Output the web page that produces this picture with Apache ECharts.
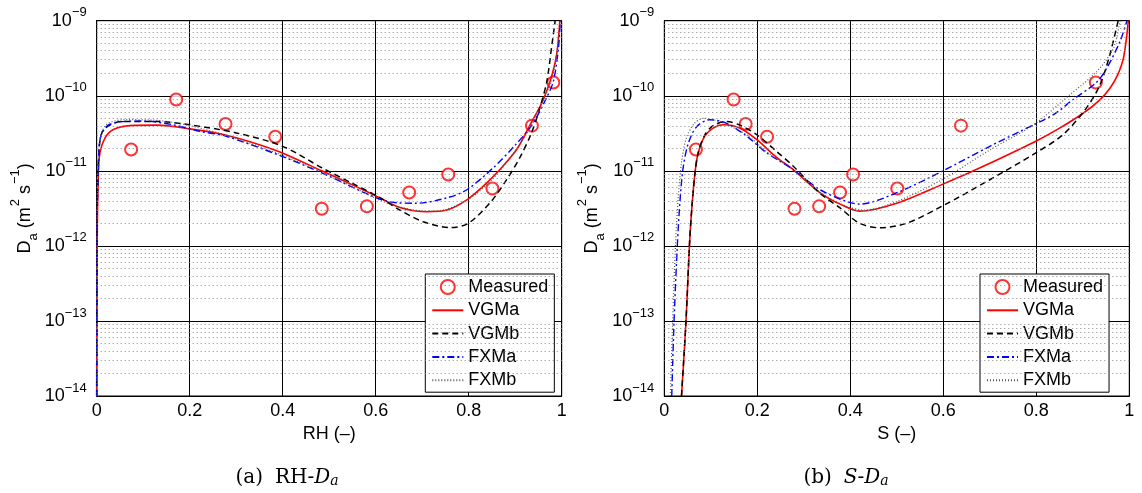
<!DOCTYPE html>
<html><head><meta charset="utf-8">
<script src="https://cdn.jsdelivr.net/npm/echarts@6/dist/echarts.min.js"></script>
<style>html,body{margin:0;padding:0;background:#fff}#c{width:1142px;height:493px}</style>
</head><body><div id="c"></div>
<script>
// ---------- data ----------
const xTicks = [0, 0.2, 0.4, 0.6, 0.8, 1];
const yDecades = [-14, -13, -12, -11, -10, -9];   // tick labels 10^n
const seriesNames = ['Measured', 'VGMa', 'VGMb', 'FXMa', 'FXMb'];

const measuredDa = [1.92e-11, 8.93e-11, 4.2e-11, 2.85e-11, 3.13e-12, 3.36e-12, 5.15e-12, 8.93e-12, 5.82e-12, 4.0e-11, 1.5e-10];
const measuredRH = [0.074, 0.171, 0.277, 0.384, 0.484, 0.581, 0.672, 0.756, 0.851, 0.936, 0.982];
const measuredS  = [0.068, 0.149, 0.175, 0.221, 0.280, 0.333, 0.378, 0.406, 0.501, 0.638, 0.928];

// panel (a): RH - Da  ([RH, Da])
const vgmaRH = [[0,1e-14],[0.001,1e-12],[0.0034,8.7e-12],[0.007,1.75e-11],[0.018,2.75e-11],[0.036,3.55e-11],[0.072,4.0e-11],[0.13,4.06e-11],[0.2,3.62e-11],[0.277,3.0e-11],[0.384,1.88e-11],[0.484,1.0e-11],[0.55,6.5e-12],[0.609,4.36e-12],[0.652,3.25e-12],[0.71,2.85e-12],[0.753,3.0e-12],[0.796,4.1e-12],[0.839,6.9e-12],[0.874,1.16e-11],[0.905,2.0e-11],[0.932,4.1e-11],[0.957,8.0e-11],[0.975,1.55e-10],[0.989,3.5e-10],[0.996,1e-9]];
const vgmbRH = [[0,1e-14],[0.001,3e-12],[0.004,1.5e-11],[0.011,3.2e-11],[0.029,4.1e-11],[0.057,4.55e-11],[0.13,4.55e-11],[0.2,4.1e-11],[0.3,3.2e-11],[0.4,2.12e-11],[0.484,1.1e-11],[0.55,6.8e-12],[0.609,4.4e-12],[0.652,3.0e-12],[0.702,2.1e-12],[0.76,1.75e-12],[0.799,2.0e-12],[0.846,3.75e-12],[0.882,7.7e-12],[0.91,1.5e-11],[0.935,3.2e-11],[0.953,6.9e-11],[0.968,1.55e-10],[0.978,4.3e-10],[0.986,1e-9]];
const fxmaRH = [[0,1e-14],[0.001,2e-12],[0.004,1.3e-11],[0.007,2.6e-11],[0.021,3.9e-11],[0.05,4.5e-11],[0.1,4.6e-11],[0.165,4.1e-11],[0.222,3.35e-11],[0.277,2.9e-11],[0.4,1.55e-11],[0.484,9.4e-12],[0.6,4.4e-12],[0.645,3.75e-12],[0.688,3.7e-12],[0.753,4.36e-12],[0.796,5.6e-12],[0.853,1.1e-11],[0.9,2.2e-11],[0.935,4.0e-11],[0.964,8.5e-11],[0.982,1.55e-10],[0.993,4.3e-10],[0.997,1e-9]];
const fxmbRH = [[0,1e-14],[0.001,2.5e-12],[0.004,1.6e-11],[0.01,3.2e-11],[0.025,4.3e-11],[0.06,4.8e-11],[0.12,4.75e-11],[0.2,4.0e-11],[0.3,2.7e-11],[0.4,1.6e-11],[0.5,8.8e-12],[0.6,4.3e-12],[0.65,3.3e-12],[0.71,2.9e-12],[0.75,3.05e-12],[0.8,4.2e-12],[0.85,7.6e-12],[0.9,1.85e-11],[0.935,4.0e-11],[0.96,8.5e-11],[0.98,1.8e-10],[0.99,4e-10],[0.997,1e-9]];

// panel (b): S - Da  ([S, Da])
const vgmaS = [[0.037,1e-14],[0.0467,1e-13],[0.054,1e-12],[0.059,3.06e-12],[0.066,9.4e-12],[0.073,1.74e-11],[0.087,2.9e-11],[0.105,3.7e-11],[0.127,4.1e-11],[0.163,3.7e-11],[0.199,2.6e-11],[0.242,1.5e-11],[0.277,1.04e-11],[0.335,5.1e-12],[0.378,3.6e-12],[0.42,2.9e-12],[0.5,3.7e-12],[0.598,6.6e-12],[0.665,1.0e-11],[0.799,2.48e-11],[0.85,3.7e-11],[0.9,5.8e-11],[0.935,8.6e-11],[0.958,1.25e-10],[0.975,1.9e-10],[0.988,3.3e-10],[0.998,1e-9]];
const vgmbS = [[0.037,1e-14],[0.0467,1e-13],[0.054,1e-12],[0.059,3.06e-12],[0.066,9.4e-12],[0.073,1.74e-11],[0.087,3.0e-11],[0.105,4.0e-11],[0.134,4.55e-11],[0.165,4.0e-11],[0.2,3.0e-11],[0.242,1.8e-11],[0.277,1.16e-11],[0.335,5.0e-12],[0.378,3.2e-12],[0.42,2.0e-12],[0.464,1.74e-12],[0.521,2.0e-12],[0.598,3.4e-12],[0.70,7.6e-12],[0.799,1.73e-11],[0.858,3.05e-11],[0.908,6.9e-11],[0.937,1.4e-10],[0.958,3.5e-10],[0.976,1e-9]];
const fxmaS = [[0.016,1e-14],[0.021,1e-13],[0.028,1e-12],[0.034,4.2e-12],[0.041,1.15e-11],[0.052,2.36e-11],[0.07,3.9e-11],[0.098,4.8e-11],[0.134,4.3e-11],[0.177,2.9e-11],[0.22,1.74e-11],[0.277,1.04e-11],[0.335,5.6e-12],[0.392,3.9e-12],[0.42,3.6e-12],[0.5,5.1e-12],[0.598,9.9e-12],[0.70,2.12e-11],[0.765,3.35e-11],[0.837,5.6e-11],[0.879,8.9e-11],[0.928,1.48e-10],[0.951,2.3e-10],[0.98,5.3e-10],[0.995,1e-9]];
const fxmbS = [[0.013,1e-14],[0.018,1e-13],[0.024,1e-12],[0.03,4.5e-12],[0.037,1.3e-11],[0.048,2.8e-11],[0.065,4.3e-11],[0.085,5.0e-11],[0.12,4.5e-11],[0.177,3.0e-11],[0.22,1.8e-11],[0.28,1.0e-11],[0.335,5.2e-12],[0.39,3.4e-12],[0.43,3.0e-12],[0.5,3.9e-12],[0.6,7.8e-12],[0.7,1.9e-11],[0.794,4.1e-11],[0.872,1.03e-10],[0.93,2.1e-10],[0.966,4.3e-10],[0.98,1e-9]];

// ---------- build ----------
const FONT = 'Liberation Sans';
const lg = v => Math.log10(v);
const toLog = arr => arr.map(p => [p[0], lg(p[1])]);

const minorVals = [];
yDecades.slice(0, -1).forEach(n => { for (let k = 2; k <= 9; k++) minorVals.push(n + Math.log10(k)); });

const styles = {
  VGMa: {color: '#ff0000', width: 1.6, type: 'solid'},
  VGMb: {color: '#000000', width: 1.5, type: [6, 4]},
  FXMa: {color: '#0000ff', width: 1.4, type: [7, 3, 2, 3]},
  FXMb: {color: '#555555', width: 1.2, type: [1, 2]}
};

function panelSeries(idx, mx, curves) {
  const out = [];
  out.push({
    type: 'line', name: '_minor', xAxisIndex: idx, yAxisIndex: idx, data: [], z: 1, silent: true,
    markLine: {silent: true, symbol: ['none', 'none'], label: {show: false}, animation: false,
      lineStyle: {color: '#888', width: 1, type: [1, 3]},
      data: minorVals.map(v => ({yAxis: v}))}
  });
  out.push({
    type: 'scatter', name: 'Measured', xAxisIndex: idx, yAxisIndex: idx, z: 3,
    symbol: 'emptyCircle', symbolSize: 12,
    itemStyle: {color: '#ff0000', borderColor: '#ff0000', borderWidth: 1.5},
    data: mx.map((x, i) => [x, lg(measuredDa[i])])
  });
  ['VGMa', 'VGMb', 'FXMa', 'FXMb'].forEach((nm, j) => {
    const s = styles[nm];
    out.push({
      type: 'line', name: nm, xAxisIndex: idx, yAxisIndex: idx, z: 4,
      symbol: 'circle', symbolSize: 0, showSymbol: false,
      smooth: 0.3, data: toLog(curves[j]), clip: true,
      itemStyle: {color: 'rgba(0,0,0,0)', borderColor: 'rgba(0,0,0,0)'},
      lineStyle: {color: s.color, width: s.width, type: s.type}
    });
  });
  return out;
}

const supLabel = v => '{b|10}{s|' + (v < 0 ? '\u2212' : '') + Math.abs(Math.round(v)) + '}';
const richTick = {
  b: {fontSize: 18, fontFamily: FONT, color: '#000', lineHeight: 29, verticalAlign: 'middle'},
  s: {fontSize: 13, fontFamily: FONT, color: '#000', lineHeight: 13, verticalAlign: 'top'}
};
const richName = {
  n: {fontSize: 18, fontFamily: FONT, color: '#000', lineHeight: 32, verticalAlign: 'middle'},
  sup: {fontSize: 13, fontFamily: FONT, color: '#000', lineHeight: 13, verticalAlign: 'top', padding: [0, 0, 0, 1]},
  sub: {fontSize: 13, fontFamily: FONT, color: '#000', lineHeight: 13, verticalAlign: 'bottom', padding: [0, 0, 1, 0]}
};

function xAx(idx, name) {
  return {
    type: 'value', gridIndex: idx, min: 0, max: 1, interval: 0.2,
    name: name, nameLocation: 'middle', nameGap: 26,
    nameTextStyle: {fontSize: 18, fontFamily: FONT, color: '#000'},
    axisLine: {show: true, onZero: false, lineStyle: {color: '#000', width: 1}},
    axisTick: {show: true, inside: true, length: 5, lineStyle: {color: '#000'}},
    axisLabel: {fontSize: 18, fontFamily: FONT, color: '#000', margin: 6,
      formatter: v => String(+v.toFixed(1))},
    splitLine: {show: true, lineStyle: {color: '#000', width: 1}}
  };
}
function yAx(idx) {
  return {
    type: 'value', gridIndex: idx, min: yDecades[0], max: yDecades[yDecades.length - 1], interval: 1,
    name: '{n|D}{sub|a}{n| (m}{sup|2}{n| s}{sup|\u22121}{n|)}', nameLocation: 'middle', nameGap: 56, nameRotate: 90,
    nameTextStyle: {rich: richName},
    axisLine: {show: true, lineStyle: {color: '#000', width: 1}},
    axisTick: {show: true, inside: true, length: 5, lineStyle: {color: '#000'}},
    axisLabel: {margin: 10, formatter: v => supLabel(v), rich: richTick},
    splitLine: {show: true, lineStyle: {color: '#000', width: 1}}
  };
}

function legendAt(left) {
  return {
    data: seriesNames, orient: 'vertical', left: left, top: 274,
    backgroundColor: '#fff', borderColor: '#000', borderWidth: 1,
    padding: [4, 6, 3, 6], itemWidth: 31, itemHeight: 14, itemGap: 5.3,
    textStyle: {fontSize: 18, fontFamily: FONT, color: '#000', lineHeight: 18},
    selectedMode: false
  };
}

const captionRich = {
  n: {fontSize: 20, fontFamily: 'DejaVu Serif', color: '#000', lineHeight: 28, verticalAlign: 'middle'},
  sp: {fontSize: 20, width: 12},
  i: {fontSize: 20, fontFamily: 'DejaVu Serif', fontStyle: 'italic', color: '#000', lineHeight: 28, verticalAlign: 'middle'},
  isub: {fontSize: 14, fontFamily: 'DejaVu Serif', fontStyle: 'italic', color: '#000', lineHeight: 14, verticalAlign: 'bottom', padding: [0, 0, 4, 0]}
};

const option = {
  backgroundColor: '#fff',
  animation: false,
  grid: [
    {left: 96.7, top: 20.7, width: 465, height: 375.3, show: true, borderColor: '#000', borderWidth: 1, backgroundColor: 'transparent'},
    {left: 664.3, top: 20.7, width: 465, height: 375.3, show: true, borderColor: '#000', borderWidth: 1, backgroundColor: 'transparent'}
  ],
  xAxis: [xAx(0, 'RH (\u2013)'), xAx(1, 'S (\u2013)')],
  yAxis: [yAx(0), yAx(1)],
  legend: [legendAt(425.3), legendAt(980)],
  graphic: [
    {type: 'text', x: 287, y: 478, style: {text: '{n|(a)}{sp| }{n|RH-}{i|D}{isub|a}', rich: captionRich, align: 'center', verticalAlign: 'middle'}},
    {type: 'text', x: 846, y: 478, style: {text: '{n|(b)}{sp| }{i|S}{n|-}{i|D}{isub|a}', rich: captionRich, align: 'center', verticalAlign: 'middle'}}
  ],
  series: [
    ...panelSeries(0, measuredRH, [vgmaRH, vgmbRH, fxmaRH, fxmbRH]),
    ...panelSeries(1, measuredS, [vgmaS, vgmbS, fxmaS, fxmbS])
  ]
};

const chart = echarts.init(document.getElementById('c'), null, {renderer: 'canvas'});
chart.setOption(option);
</script>
</body></html>
